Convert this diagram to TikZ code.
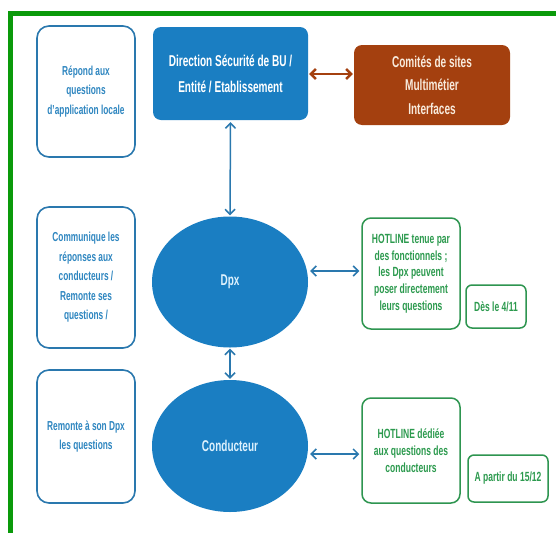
\documentclass[tikz,border=0pt]{standalone}
\usepackage{fontspec}
\setmainfont{Liberation Sans}[FakeStretch=0.64]
\usetikzlibrary{shapes.geometric,arrows.meta}
\definecolor{frameg}{HTML}{0A9A0A}
\definecolor{bfill}{HTML}{1A7EC2}
\definecolor{bline}{HTML}{2A78AE}
\definecolor{btext}{HTML}{2E86C0}
\definecolor{brn}{HTML}{A4400F}
\definecolor{gline}{HTML}{2E9550}
\definecolor{gtext}{HTML}{2C9A4E}
\definecolor{lblue}{HTML}{DDF1FD}
\definecolor{cream}{HTML}{F8EADC}
\tikzset{
  leftbox/.style={draw=bline, line width=1.6pt, fill=white, rounded corners=12pt,
    minimum width=98pt, align=center, text=btext, font=\bfseries\fontsize{13}{19.5}\selectfont, inner sep=2pt},
  topbox/.style={fill=bfill, rounded corners=8pt, minimum width=155pt, minimum height=93pt,
    align=center, text=white, font=\bfseries\fontsize{15.7}{26}\selectfont},
  combox/.style={fill=brn, rounded corners=8pt, minimum width=156pt, minimum height=80pt,
    align=center, text=cream, font=\bfseries\fontsize{15.7}{23.5}\selectfont},
  ell/.style={ellipse, fill=bfill, minimum width=156pt, minimum height=131pt, inner sep=0pt,
    text=lblue, font=\bfseries\fontsize{15.6}{18}\selectfont},
  greenbox/.style={draw=gline, line width=1.5pt, fill=white, rounded corners=9pt,
    align=center, text=gtext, font=\bfseries\fontsize{13.3}{16.7}\selectfont, inner sep=2pt},
  barr/.style={draw=bline, line width=1.5pt, {Straight Barb[length=5pt,width=10pt]}-{Straight Barb[length=5pt,width=10pt]}},
  brarr/.style={draw=brn, line width=2.4pt, {Straight Barb[length=5pt,width=10pt]}-{Straight Barb[length=5pt,width=10pt]}},
}
\begin{document}
\begin{tikzpicture}[x=1pt,y=-1pt]
\useasboundingbox (0,0) rectangle (556,533);
\fill[white] (0,0) rectangle (556,533);
% frame
\fill[frameg] (8,11) rectangle (556,15.5);
\fill[frameg] (8,11) rectangle (12.5,533);
% left boxes
\node[leftbox, minimum height=131pt] (q1) at (86,91.5) {Répond aux\\questions\\d'application locale};
\node[leftbox, minimum height=141pt] (q2) at (86,277.5) {Communique les\\réponses aux\\conducteurs /\\Remonte ses\\questions /};
\node[leftbox, minimum height=133pt] (q3) at (86,436.5) {Remonte à son Dpx\\les questions};
% top
\node[topbox] (dir) at (230.5,73.5) {Direction Sécurité de BU /\\Entité / Etablissement};
\node[combox] (com) at (432,85) {Comités de sites\\Multimétier\\Interfaces};
% ellipses
\node[ell] (dpx) at (230,282) {Dpx};
\node[ell, minimum height=132pt] (cond) at (230,446) {Conducteur};
% hotlines
\node[greenbox, minimum width=98pt, minimum height=111pt] (h1) at (411,273.5) {HOTLINE tenue par\\des fonctionnels ;\\les Dpx peuvent\\poser directement\\leurs questions};
\node[greenbox, minimum width=60pt, minimum height=43pt, rounded corners=6pt] (d1) at (496,306.5) {Dès le 4/11};
\node[greenbox, minimum width=98pt, minimum height=105pt] (h2) at (411,450.5) {HOTLINE dédiée\\aux questions des\\conducteurs};
\node[greenbox, minimum width=80pt, minimum height=47pt, rounded corners=6pt] (d2) at (508,478.5) {A partir du 15/12};
% arrows
\draw[brarr] ([xshift=1pt,yshift=-0.5pt]dir.east) -- ([xshift=-1pt,yshift=-0.5pt]dir.east -| com.west);
\draw[barr] ([yshift=-2pt]dir.south) -- ([yshift=1pt]dpx.north);
\draw[barr] ([yshift=-1pt]dpx.south) -- ([yshift=1pt]cond.north);
\draw[barr] ([xshift=-2pt,yshift=2.5pt]h1.west) -- ([xshift=2pt,yshift=2.5pt]h1.west -| dpx.east);
\draw[barr] ([xshift=-2pt,yshift=-3.5pt]h2.west) -- ([xshift=2pt,yshift=-3.5pt]h2.west -| cond.east);
\end{tikzpicture}
\end{document}
